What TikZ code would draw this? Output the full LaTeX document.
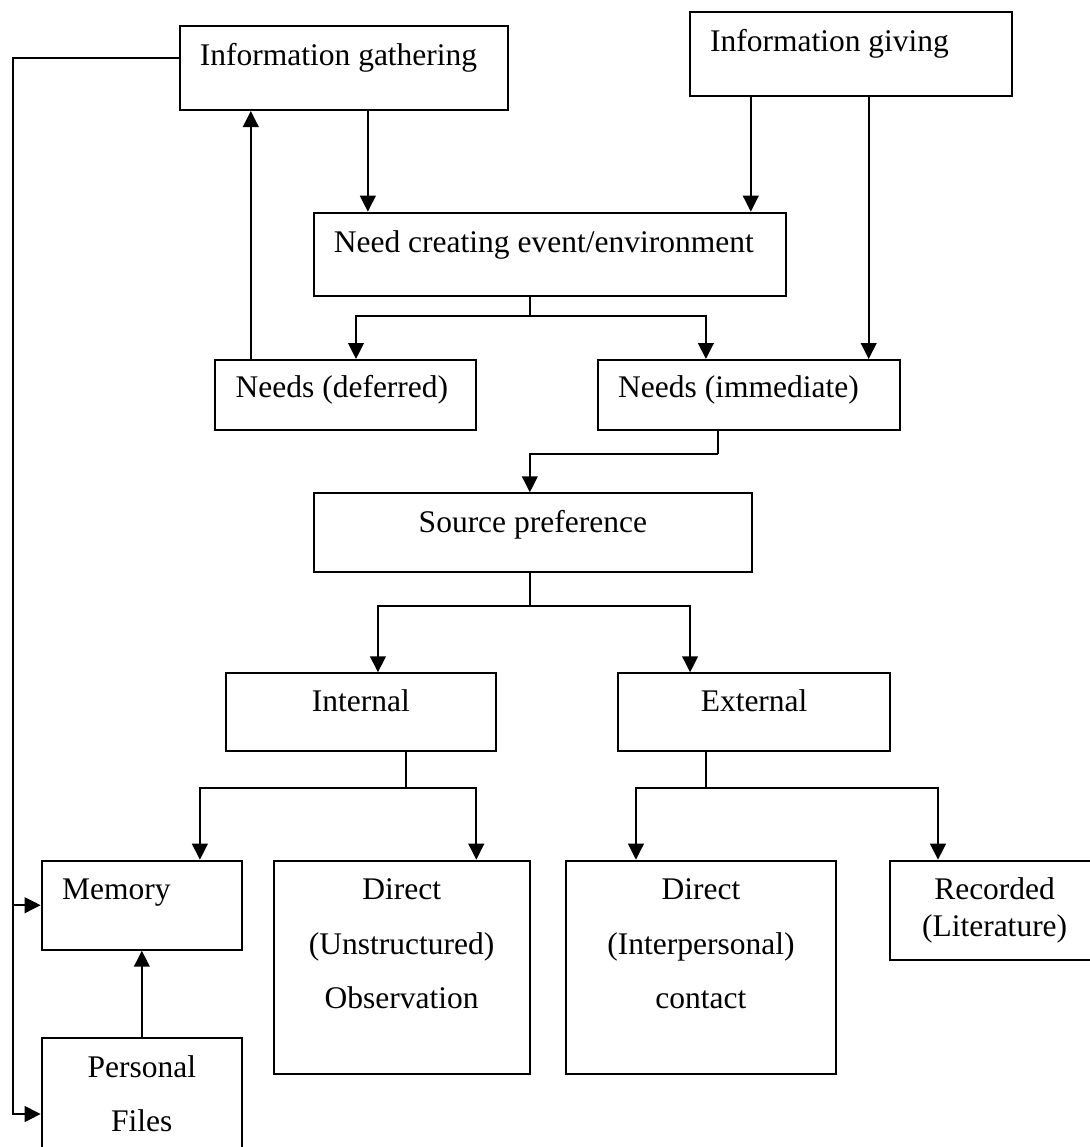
\documentclass[tikz,border=0pt]{standalone}
\usepackage{fontspec}
\setmainfont{Liberation Serif}
\usetikzlibrary{arrows.meta}
\newcommand\stacked[1]{\begin{tabular}[t]{@{}c@{}}#1\end{tabular}}
\begin{document}
\begin{tikzpicture}[x=0.5pt,y=-0.5pt,font=\fontsize{15.75}{27.3}\selectfont,
	box/.style={draw,line width=1pt,inner sep=0pt,anchor=north west},
	arr/.style={line width=1.1pt,-{Triangle[length=8pt,width=7.8pt]}},
	stub/.style={line width=0.7pt},
	txtl/.style={anchor=base west,inner sep=0pt},
	txtc/.style={anchor=base,inner sep=0pt}]
	\useasboundingbox (0,0) rectangle (1090,1147);
	\clip (0,0) rectangle (1090,1147);
	% boxes
	\node[box,minimum width=164.35pt,minimum height=42pt] (ig) at (178.5,25) {};
	\node[box,minimum width=161.15pt,minimum height=42.15pt] (igv) at (688.7,11) {};
	\node[box,minimum width=236.35pt,minimum height=41.5pt] (nc) at (312.5,211.7) {};
	\node[box,minimum width=130.5pt,minimum height=34.85pt] (nd) at (214.3,359) {};
	\node[box,minimum width=151pt,minimum height=34.85pt] (ni) at (596.8,359) {};
	\node[box,minimum width=219.35pt,minimum height=39.2pt] (sp) at (312.5,492.3) {};
	\node[box,minimum width=135.05pt,minimum height=39pt] (int) at (224.8,672.3) {};
	\node[box,minimum width=136.3pt,minimum height=39pt] (ext) at (616.8,672.3) {};
	\node[box,minimum width=100.3pt,minimum height=44.5pt] (mem) at (40.7,859.7) {};
	\node[box,minimum width=128.2pt,minimum height=106.5pt] (duo) at (272.5,859.7) {};
	\node[box,minimum width=135.35pt,minimum height=106.5pt] (dic) at (564.6,859.7) {};
	\node[box,minimum width=105pt,minimum height=49.4pt] (rec) at (888.6,859.7) {};
	\node[box,minimum width=100.15pt,minimum height=75.7pt] (pf) at (40.7,1037.3) {};
	% texts
	\node[txtl] at ([shift={(21,40)}]ig.north west) {Information gathering};
	\node[txtl] at ([shift={(21,40)}]igv.north west) {Information giving};
	\node[txtl] at ([shift={(21,41)}]nc.north west) {Need creating event/environment};
	\node[txtl] at ([shift={(21,38)}]nd.north west) {Needs (deferred)};
	\node[txtl] at ([shift={(21,38)}]ni.north west) {Needs (immediate)};
	\node[txtc] at ([shift={(0,40)}]sp.north) {Source preference};
	\node[txtc] at ([shift={(0,39.5)}]int.north) {Internal};
	\node[txtc] at ([shift={(0,39.5)}]ext.north) {External};
	\node[txtl] at ([shift={(21,40)}]mem.north west) {Memory};
	\node[txtc] at ([shift={(0,40)}]duo.north) {\stacked{Direct\\(Unstructured)\\Observation}};
	\node[txtc] at ([shift={(0,40)}]dic.north) {\stacked{Direct\\(Interpersonal)\\contact}};
	\node[txtc] at ([shift={(0,39.6)}]rec.north) {\fontsize{15.75}{18.7}\selectfont\stacked{Recorded\\(Literature)}};
	\node[txtc] at ([shift={(0,40)}]pf.north) {\stacked{Personal\\Files}};
	% connectors
	\coordinate (rail) at (13,0);
	\draw[arr] ([shift={(0,-9.7)}]ig.west) -| (rail |- mem.west) -- (mem.west);
	\draw[arr] (rail |- mem.west) |- (pf.west);
	\draw[arr] ([shift={(24,0)}]ig.south) -- ([shift={(24,0)}]ig.south |- nc.north);
	\draw[arr] ([shift={(36.5,0)}]nd.north west) -- ([shift={(36.5,0)}]nd.north west |- ig.south);
	\draw[arr] ([shift={(62.1,0)}]igv.south west) -- ([shift={(62.1,0)}]igv.south west |- nc.north);
	\draw[arr] ([shift={(180,0)}]igv.south west) -- ([shift={(180,0)}]igv.south west |- ni.north);
	\coordinate (b1) at ([shift={(-20,19.6)}]nc.south);
	\draw[stub] (b1) -- (b1 |- nc.south);
	\draw[arr] (b1) -| ([shift={(10.2,0)}]nd.north);
	\draw[arr] (b1) -| ([shift={(-42.9,0)}]ni.north);
	\coordinate (b2) at ([shift={(-30.7,23.3)}]ni.south);
	\draw[stub] (b2) -- (b2 |- ni.south);
	\draw[arr] (b2) -| ([shift={(-3,0)}]sp.north);
	\coordinate (b3) at ([shift={(-3,33.6)}]sp.south);
	\draw[stub] (b3) -- (b3 |- sp.south);
	\draw[arr] (b3) -| ([shift={(17.1,0)}]int.north);
	\draw[arr] (b3) -| ([shift={(-64,0)}]ext.north);
	\coordinate (b4) at ([shift={(45.2,36)}]int.south);
	\draw[stub] (b4) -- (b4 |- int.south);
	\draw[arr] (b4) -| ([shift={(57.9,0)}]mem.north);
	\draw[arr] (b4) -| ([shift={(74.6,0)}]duo.north);
	\coordinate (b5) at ([shift={(-48.2,36)}]ext.south);
	\draw[stub] (b5) -- (b5 |- ext.south);
	\draw[arr] (b5) -| ([shift={(-65,0)}]dic.north);
	\draw[arr] (b5) -| ([shift={(-56.6,0)}]rec.north);
	\draw[arr] (pf.north) -- (pf.north |- mem.south);
\end{tikzpicture}
\end{document}
